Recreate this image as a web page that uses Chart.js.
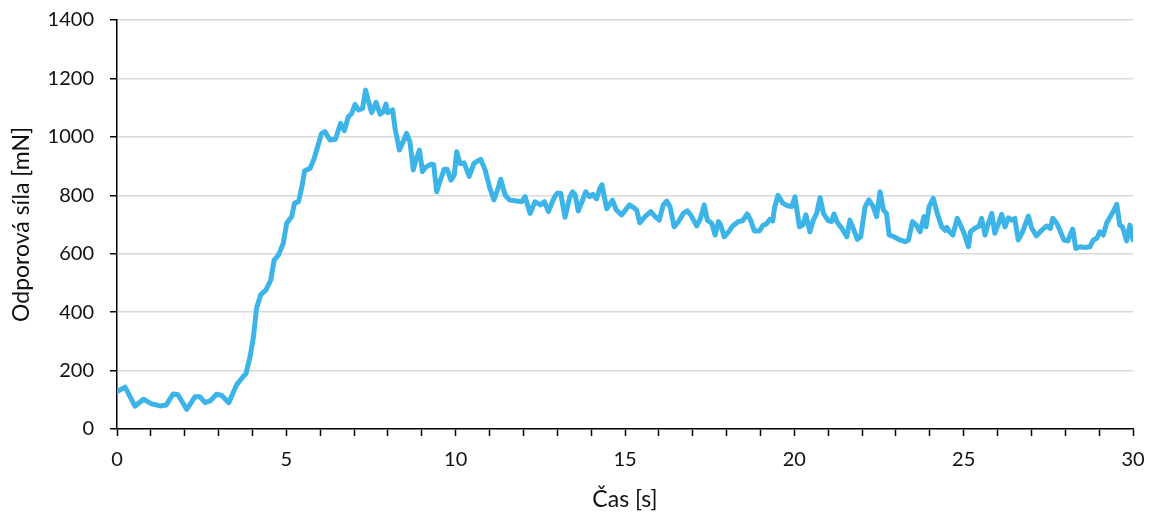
<!DOCTYPE html>
<html>
<head>
<meta charset="utf-8">
<script src="https://cdn.jsdelivr.net/npm/chart.js@4/dist/chart.umd.min.js"></script>
<style>
  html, body { margin: 0; padding: 0; background: #fff; }
  #wrap { width: 1151px; height: 513px; }
</style>
</head>
<body>
<div id="wrap"><canvas id="c" width="1151" height="513"></canvas></div>
<script>
// Measured drag force over time
const timeS = [
  0.00, 0.24, 0.53, 0.78, 1.02, 1.27, 1.45, 1.66, 1.80, 2.06,
  2.30, 2.45, 2.60, 2.75, 2.94, 3.09, 3.30, 3.53, 3.68, 3.81,
  3.93, 4.03, 4.12, 4.24, 4.40, 4.54, 4.64, 4.77, 4.91, 5.01,
  5.16, 5.24, 5.36, 5.47, 5.54, 5.70, 5.82, 5.94, 6.04, 6.14,
  6.29, 6.45, 6.60, 6.71, 6.83, 6.93, 7.03, 7.13, 7.25, 7.34,
  7.41, 7.52, 7.65, 7.77, 7.87, 7.94, 8.00, 8.14, 8.21, 8.34,
  8.43, 8.55, 8.65, 8.75, 8.83, 8.93, 9.02, 9.13, 9.29, 9.35,
  9.44, 9.55, 9.66, 9.75, 9.86, 9.96, 10.03, 10.13, 10.25, 10.40,
  10.54, 10.62, 10.74, 10.87, 11.01, 11.13, 11.27, 11.33, 11.46, 11.59,
  11.76, 11.95, 12.05, 12.20, 12.34, 12.50, 12.62, 12.74, 12.90, 13.00,
  13.10, 13.23, 13.36, 13.45, 13.53, 13.62, 13.75, 13.84, 13.95, 14.05,
  14.16, 14.26, 14.32, 14.46, 14.63, 14.74, 14.90, 15.13, 15.24, 15.34,
  15.44, 15.59, 15.76, 15.89, 16.01, 16.13, 16.23, 16.33, 16.45, 16.58,
  16.72, 16.84, 16.94, 17.12, 17.22, 17.34, 17.43, 17.56, 17.66, 17.76,
  17.83, 17.93, 18.05, 18.18, 18.35, 18.47, 18.61, 18.71, 18.82, 18.97,
  19.08, 19.17, 19.28, 19.36, 19.42, 19.52, 19.66, 19.80, 19.92, 20.02,
  20.15, 20.25, 20.34, 20.46, 20.56, 20.66, 20.76, 20.86, 21.00, 21.10,
  21.17, 21.27, 21.40, 21.55, 21.64, 21.74, 21.86, 21.96, 22.09, 22.20,
  22.33, 22.43, 22.53, 22.63, 22.72, 22.80, 22.94, 23.12, 23.27, 23.37,
  23.49, 23.60, 23.71, 23.83, 23.89, 23.98, 24.10, 24.22, 24.35, 24.45,
  24.50, 24.58, 24.68, 24.81, 24.91, 25.01, 25.14, 25.20, 25.33, 25.46,
  25.53, 25.63, 25.73, 25.83, 25.92, 26.03, 26.12, 26.22, 26.32, 26.42,
  26.51, 26.61, 26.74, 26.91, 27.01, 27.15, 27.31, 27.45, 27.56, 27.63,
  27.75, 27.86, 27.96, 28.08, 28.16, 28.22, 28.31, 28.44, 28.58, 28.73,
  28.83, 28.93, 29.02, 29.12, 29.22, 29.33, 29.44, 29.52, 29.61, 29.69,
  29.81, 29.91, 30.00
];

const forceMN = [
  128, 143, 78, 102, 86, 79, 82, 120, 117, 67,
  110, 110, 90, 96, 119, 115, 90, 151, 173, 190,
  248, 316, 413, 459, 476, 510, 578, 596, 636, 704,
  727, 773, 778, 835, 884, 892, 925, 972, 1012, 1018,
  989, 992, 1046, 1021, 1069, 1080, 1111, 1092, 1097, 1160,
  1128, 1083, 1118, 1078, 1086, 1112, 1083, 1092, 1029, 955,
  978, 1012, 983, 887, 923, 955, 881, 898, 907, 904,
  812, 852, 889, 889, 852, 870, 949, 909, 911, 865,
  909, 915, 923, 887, 824, 784, 830, 855, 801, 784,
  781, 778, 795, 738, 778, 767, 778, 744, 790, 807,
  807, 725, 790, 812, 801, 746, 784, 812, 795, 803,
  788, 824, 836, 754, 783, 750, 733, 767, 759, 750,
  706, 727, 744, 727, 715, 767, 780, 761, 692, 710,
  738, 747, 733, 695, 718, 767, 715, 704, 664, 710,
  698, 658, 673, 695, 710, 713, 736, 715, 678, 678,
  698, 701, 718, 712, 760, 800, 773, 764, 761, 795,
  692, 698, 733, 675, 715, 738, 792, 738, 713, 710,
  736, 707, 687, 658, 715, 687, 649, 658, 761, 784,
  761, 727, 812, 750, 738, 664, 658, 647, 641, 647,
  710, 698, 675, 727, 692, 761, 790, 738, 692, 680,
  690, 675, 664, 721, 698, 670, 624, 675, 687, 695,
  721, 664, 704, 738, 670, 704, 735, 692, 723, 715,
  721, 647, 675, 729, 687, 661, 681, 695, 687, 721,
  704, 675, 647, 644, 670, 684, 618, 624, 621, 624,
  647, 653, 675, 664, 704, 727, 750, 769, 698, 692,
  644, 698, 647
];

// Axis ranges and tick steps
const xRange = [0, 30];
const xStep = 1;
const xLabelEvery = 5;
const yRange = [0, 1400];
const yStep = 200;

const xTitle = 'Čas [s]';
const yTitle = 'Odporová síla [mN]';

const points = timeS.map((t, i) => ({ x: t, y: forceMN[i] }));

const fontFamily = "Lato, 'Open Sans', sans-serif";
const textColor = '#111';

new Chart(document.getElementById('c'), {
  type: 'line',
  data: {
    datasets: [{
      data: points,
      borderColor: '#3cb4e7',
      borderWidth: 5,
      pointRadius: 0,
      tension: 0,
      borderJoinStyle: 'round',
      borderCapStyle: 'round',
      fill: false
    }]
  },
  options: {
    responsive: false,
    animation: false,
    devicePixelRatio: 1,
    layout: { padding: { top: 20, right: 18, left: 0, bottom: 0 } },
    plugins: { legend: { display: false }, tooltip: { enabled: false } },
    scales: {
      x: {
        type: 'linear',
        min: xRange[0],
        max: xRange[1],
        afterFit: (s) => { s.height = 84; s.paddingLeft = 0; s.paddingRight = 0; },
        ticks: {
          stepSize: xStep,
          autoSkip: false,
          maxRotation: 0,
          padding: 12,
          color: textColor,
          font: { family: fontFamily, size: 20 },
          callback: (v) => (v % xLabelEvery === 0 ? String(v) : '')
        },
        grid: {
          drawOnChartArea: false,
          tickColor: '#000',
          tickLength: 7,
          tickWidth: 1.5
        },
        border: { color: '#000', width: 1.5 },
        title: {
          display: true,
          text: xTitle,
          color: textColor,
          font: { family: fontFamily, size: 23 },
          padding: { top: 0, bottom: 0 }
        }
      },
      y: {
        min: yRange[0],
        max: yRange[1],
        afterFit: (s) => { s.width = 117; s.paddingTop = 0; s.paddingBottom = 0; },
        ticks: {
          stepSize: yStep,
          padding: 16,
          color: textColor,
          font: { family: fontFamily, size: 20 },
          callback: (v) => String(v)
        },
        grid: {
          color: '#d9d9d9',
          lineWidth: 1.5,
          tickColor: '#000',
          tickLength: 7,
          tickWidth: 1.5
        },
        border: { color: '#000', width: 1.5 },
        title: {
          display: true,
          text: yTitle,
          color: textColor,
          font: { family: fontFamily, size: 23 },
          padding: { top: 8, bottom: 0 }
        }
      }
    }
  }
});
</script>
</body>
</html>
